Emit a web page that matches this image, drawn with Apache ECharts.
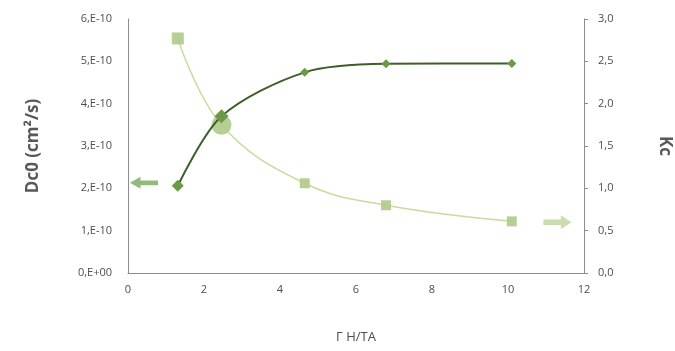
<!DOCTYPE html>
<html><head><meta charset="utf-8">
<script src="https://cdn.jsdelivr.net/npm/echarts@6/dist/echarts.min.js"></script>
<style>html,body{margin:0;padding:0;background:#fff}#c{width:675px;height:351px}</style>
</head><body><div id="c"></div>
<script>
const xValues = [1.31, 2.46, 4.65, 6.79, 10.1];
const dc0Values = [2.06e-10, 3.7e-10, 4.74e-10, 4.94e-10, 4.95e-10];
const kcValues = [2.77, 1.75, 1.06, 0.80, 0.61];
const dcArrow = [0.42, 2.13e-10];
const kcArrow = [11.3, 0.6];
const leftTicks = ['0,E+00','1,E-10','2,E-10','3,E-10','4,E-10','5,E-10','6,E-10'];

const chart = echarts.init(document.getElementById('c'));
const font = 'Open Sans';
const txt = '#4d4d4d';
const arrowPath = 'path://M0,5 L6,0 L6,3 L16,3 L16,7 L6,7 L6,10 Z';
chart.setOption({
  animation:false,
  grid:{left:128,right:91,top:19,bottom:78,containLabel:false,outerBoundsMode:'none'},
  xAxis:{type:'value',min:0,max:12,interval:2,
    axisLine:{lineStyle:{color:'#8c8c8c'}},axisTick:{show:false},splitLine:{show:false},
    axisLabel:{color:txt,fontFamily:font,fontSize:11,margin:11},
    name:'Γ H/TA',nameLocation:'middle',nameGap:58,
    nameTextStyle:{color:txt,fontFamily:font,fontSize:13}},
  yAxis:[{type:'value',min:0,max:6e-10,interval:1e-10,
    axisLine:{show:true,lineStyle:{color:'#8c8c8c'}},axisTick:{show:false},splitLine:{show:false},
    axisLabel:{color:txt,fontFamily:font,fontSize:11,margin:16,
      formatter:v=>leftTicks[Math.round(v/1e-10)]},
    name:'Dc0 (cm²/s)',nameLocation:'middle',nameGap:86,
    nameTextStyle:{color:'#595959',fontFamily:font,fontSize:17,fontWeight:'bold'}},
   {type:'value',min:0,max:3,interval:0.5,position:'right',
    axisLine:{show:true,lineStyle:{color:'#8c8c8c'}},axisTick:{show:true,length:4,lineStyle:{color:'#8c8c8c'}},splitLine:{show:false},
    axisLabel:{color:txt,fontFamily:font,fontSize:11,margin:14,formatter:v=>v.toFixed(1).replace('.',',')},
    name:'Kc',nameLocation:'middle',nameGap:72,nameRotate:-90,
    nameTextStyle:{color:'#595959',fontFamily:font,fontSize:17,fontWeight:'bold'}}],
  series:[
   {type:'line',yAxisIndex:1,smooth:0.4,z:2,
    data:xValues.map((x,i)=>[x,kcValues[i]]),
    lineStyle:{color:'#c9db9c',width:1.5},
    symbol:(v,p)=>p.dataIndex===1?'circle':'rect',
    symbolSize:(v,p)=>p.dataIndex===1?20:(p.dataIndex===0?12:10),
    itemStyle:{color:'#b3cc8e',opacity:0.95}},
   {type:'line',yAxisIndex:0,smooth:0.3,z:3,
    data:xValues.map((x,i)=>[x,dc0Values[i]]),
    lineStyle:{color:'#3f5f2a',width:2},
    symbol:'diamond',
    symbolSize:(v,p)=>p.dataIndex===1?14:(p.dataIndex===0?12:9),
    itemStyle:{color:'#6a9a48'}},
   {type:'scatter',yAxisIndex:0,data:[dcArrow],symbol:arrowPath,symbolSize:[28,12],
    itemStyle:{color:'#7aa65a'}},
   {type:'scatter',yAxisIndex:1,data:[kcArrow],symbol:arrowPath,symbolRotate:180,symbolSize:[28,14],
    itemStyle:{color:'#bcd49c'}}
  ]
});
</script></body></html>
